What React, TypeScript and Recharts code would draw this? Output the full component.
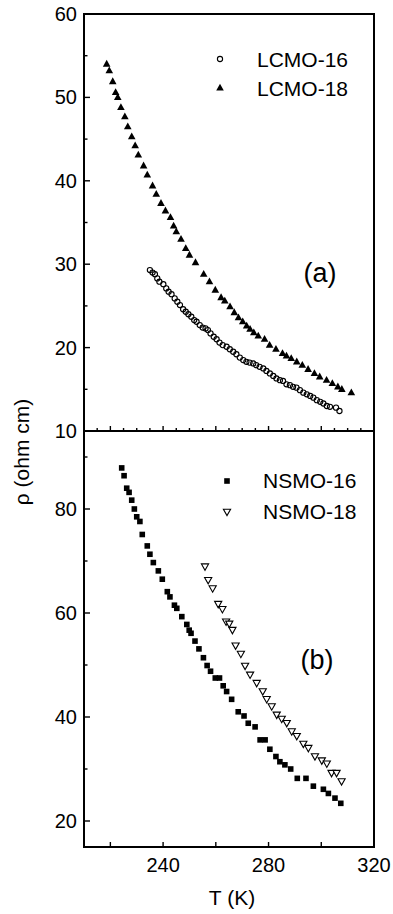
import React from 'react';
import { ScatterChart, Scatter, XAxis, YAxis, ReferenceArea, Legend } from 'recharts';

const FONT = '"Liberation Sans", Arial, Helvetica, sans-serif';

// panel (a): LCMO samples, T in K, rho in ohm cm
const lcmo16T = [
  235.0, 236.0, 236.9, 237.8, 238.6, 240.1, 241.2, 242.1, 243.2, 244.4, 245.4, 246.4, 247.6, 248.6, 249.6,
  250.7, 251.8, 252.7, 253.9, 255.0, 256.1, 257.0, 258.0, 259.2, 260.3, 261.4, 262.6, 264.1, 265.3, 266.6,
  267.8, 269.1, 270.4, 271.6, 272.8, 274.2, 275.3, 276.6, 278.0, 279.2, 280.5, 281.8, 283.0, 284.3, 285.5,
  286.8, 288.1, 289.3, 290.6, 291.9, 293.2, 294.5, 295.8, 297.0, 298.3, 299.6, 300.8, 302.1, 303.3, 305.6,
  306.9,
];
const lcmo16Rho = [
  29.3, 29.0, 28.8, 28.3, 27.9, 27.6, 27.1, 26.7, 26.4, 25.9, 25.5, 25.1, 24.6, 24.3, 24.0,
  23.7, 23.3, 23.1, 22.7, 22.4, 22.3, 22.1, 21.7, 21.3, 21.0, 20.6, 20.3, 20.1, 19.8, 19.5,
  19.2, 18.8, 18.5, 18.3, 18.2, 18.1, 17.9, 17.7, 17.5, 17.2, 16.9, 16.6, 16.3, 16.1, 16.0,
  15.6, 15.5, 15.3, 15.2, 14.9, 14.6, 14.4, 14.2, 14.0, 13.7, 13.5, 13.3, 13.0, 12.9, 12.8,
  12.4,
];
const lcmo18T = [
  218.6, 219.6, 220.9, 222.0, 222.8, 224.0, 225.5, 226.6, 228.1, 229.4, 230.6, 232.6, 234.0, 236.0, 237.4,
  239.2, 240.9, 242.8, 244.0, 245.0, 246.8, 248.6, 250.0, 252.3, 255.4, 257.6, 259.8, 262.0, 263.4, 265.4,
  267.0, 268.6, 270.2, 271.7, 273.0, 274.4, 276.1, 278.5, 280.4, 282.8, 285.3, 286.8, 288.6, 290.7, 292.8,
  295.0, 297.4, 299.4, 302.0, 304.2, 306.3, 307.8, 311.4,
];
const lcmo18Rho = [
  54.0, 53.2, 51.9, 50.6, 50.0, 48.8, 47.7, 46.5, 45.3, 44.2, 43.1, 41.8, 40.7, 39.4, 38.4,
  37.3, 36.4, 35.6, 34.6, 33.9, 33.0, 31.9, 31.1, 30.2, 28.8, 27.9, 26.9, 26.0, 25.6, 24.9,
  24.2, 23.6, 23.1, 22.6, 22.2, 21.8, 21.4, 21.0, 20.3, 19.8, 19.3, 19.0, 18.7, 18.3, 17.9,
  17.4, 16.9, 16.5, 16.1, 15.7, 15.3, 15.0, 14.6,
];

// panel (b): NSMO samples
const nsmo16T = [
  224.3, 225.2, 226.2, 227.1, 228.1, 229.1, 230.0, 231.2, 232.1, 234.0, 235.0, 236.3, 238.2, 239.7, 241.6,
  242.6, 244.3, 245.2, 247.1, 249.0, 249.9, 250.6, 252.1, 253.6, 255.3, 256.7, 258.0, 259.8, 261.4, 262.8,
  264.1, 266.0, 268.5, 270.7, 272.3, 274.9, 276.8, 278.7, 280.5, 282.8, 284.3, 286.2, 288.4, 290.9, 294.2,
  297.0, 300.8, 302.7, 305.2, 307.4,
];
const nsmo16Rho = [
  87.9, 86.4, 84.0, 83.2, 81.7, 80.0, 78.5, 77.6, 75.1, 72.9, 71.3, 69.7, 68.1, 66.5, 64.1,
  63.1, 61.5, 60.9, 59.3, 57.8, 56.7, 56.1, 54.6, 53.1, 51.4, 49.9, 48.8, 47.5, 47.5, 46.0,
  44.9, 43.4, 41.0, 40.2, 38.8, 38.1, 35.6, 35.6, 33.8, 32.4, 31.4, 30.8, 30.0, 28.2, 28.2,
  26.7, 26.1, 25.3, 24.4, 23.4,
];
const nsmo18T = [
  255.9, 257.1, 258.8, 260.9, 262.5, 263.9, 265.1, 266.3, 267.5, 269.5, 271.1, 273.0, 275.5, 277.8, 279.3,
  281.2, 283.1, 285.0, 286.9, 288.8, 290.7, 293.2, 295.1, 297.6, 300.2, 302.1, 303.9, 305.8, 307.7,
];
const nsmo18Rho = [
  68.9, 66.3, 64.7, 61.7, 60.7, 58.3, 57.9, 56.7, 53.7, 52.1, 49.8, 48.1, 46.5, 44.9, 43.4,
  42.0, 40.4, 39.6, 38.8, 37.2, 36.3, 34.8, 34.0, 32.4, 31.6, 31.0, 29.2, 29.2, 27.6,
];

const xTicksTop = [215, 220, 225, 230, 235, 240, 245, 250, 255, 260, 265, 270, 275, 280, 285, 290, 295, 300, 305, 310, 315];
const xTicksBottom = [220, 240, 260, 280, 300, 320];
const xLabels = [240, 280, 320];
const yTicksTop = [10, 15, 20, 25, 30, 35, 40, 45, 50, 55, 60];
const yLabelsTop = [10, 20, 30, 40, 50, 60];
const yTicksBottom = [20, 30, 40, 50, 60, 70, 80, 90];
const yLabelsBottom = [20, 40, 60, 80];

const zip = (t: number[], r: number[]) => t.map((x, i) => ({ x, y: r[i] }));

const upTriangle = (cx: number, cy: number) =>
  `M${cx},${cy - 4.2}L${cx + 3.8},${cy + 2.6}L${cx - 3.8},${cy + 2.6}Z`;
const downTriangle = (cx: number, cy: number) =>
  `M${cx - 3.6},${cy - 2.8}L${cx + 3.6},${cy - 2.8}L${cx},${cy + 3.6}Z`;

const Marker = ({ kind, cx, cy }: { kind: string; cx: number; cy: number }) => {
  if (kind === 'circle') return <circle cx={cx} cy={cy} r={2.6} fill="none" stroke="#000" strokeWidth={1.1} />;
  if (kind === 'square') return <rect x={cx - 2.8} y={cy - 2.8} width={5.6} height={5.6} fill="#000" />;
  if (kind === 'up') return <path d={upTriangle(cx, cy)} fill="#000" />;
  return <path d={downTriangle(cx, cy)} fill="#fff" stroke="#000" strokeWidth={1.1} />;
};

const shapeOf = (kind: string) => (p: any) => <Marker kind={kind} cx={p.cx} cy={p.cy} />;

const leftTick = (labels: number[]) => (p: any) => {
  const v = p.payload.value;
  const major = labels.includes(v);
  return (
    <g>
      <line x1={p.x} y1={p.y} x2={p.x + (major ? 6 : 3.5)} y2={p.y} stroke="#000" strokeWidth={1.4} />
      {major && (
        <text x={p.x - 7} y={p.y + 7} textAnchor="end" fontSize={20} fontFamily={FONT} fill="#000">
          {v}
        </text>
      )}
    </g>
  );
};

const bottomTick = (labels: number[], showText: boolean) => (p: any) => {
  const v = p.payload.value;
  const major = v % 20 === 0;
  return (
    <g>
      <line x1={p.x} y1={p.y} x2={p.x} y2={p.y - (major ? 5 : 3)} stroke="#000" strokeWidth={1.4} />
      {showText && labels.includes(v) && (
        <text x={p.x} y={p.y + 25} textAnchor="middle" fontSize={20} fontFamily={FONT} fill="#000">
          {v}
        </text>
      )}
    </g>
  );
};

type Entry = { name: string; kind: string };

const LegendRows = ({ items, gap, rowH }: { items: Entry[]; gap: number; rowH: number }) => (
  <div style={{ fontFamily: FONT, fontSize: 21, color: '#000' }}>
    {items.map((it) => (
      <div key={it.name} style={{ display: 'flex', alignItems: 'center', height: rowH }}>
        <svg width={16} height={16} style={{ marginRight: gap }}>
          <Marker kind={it.kind} cx={8} cy={8} />
        </svg>
        <span style={{ lineHeight: `${rowH}px` }}>{it.name}</span>
      </div>
    ))}
  </div>
);

const Tag = ({ text, left, top }: { text: string; left: number; top: number }) => (
  <div
    style={{
      position: 'absolute',
      left,
      top,
      transform: 'translate(-50%, -50%)',
      fontFamily: FONT,
      fontSize: 27,
      color: '#000',
      whiteSpace: 'nowrap',
    }}
  >
    {text}
  </div>
);

export default function App() {
  const legendA: Entry[] = [
    { name: 'LCMO-16', kind: 'circle' },
    { name: 'LCMO-18', kind: 'up' },
  ];
  const legendB: Entry[] = [
    { name: 'NSMO-16', kind: 'square' },
    { name: 'NSMO-18', kind: 'down' },
  ];

  return (
    <div style={{ position: 'absolute', left: 0, top: 0, width: 393, height: 914, background: '#fff' }}>
      <div style={{ position: 'absolute', left: 0, top: 431 }}>
        <ScatterChart width={393} height={483} margin={{ top: 0, right: 19, bottom: 0, left: 0 }}>
          <XAxis
            type="number"
            dataKey="x"
            domain={[210, 320]}
            ticks={xTicksBottom}
            interval={0}
            height={67}
            axisLine={false}
            tickLine={false}
            tickSize={0}
            tickMargin={0}
            tick={bottomTick(xLabels, true)}
            label={{ value: 'T (K)', position: 'insideBottom', offset: 9, dx: 3, fontSize: 21, fontFamily: FONT, fill: '#000' }}
            allowDataOverflow
          />
          <YAxis
            type="number"
            dataKey="y"
            domain={[15, 95]}
            ticks={yTicksBottom}
            interval={0}
            width={84}
            axisLine={false}
            tickLine={false}
            tickSize={0}
            tickMargin={0}
            tick={leftTick(yLabelsBottom)}
            allowDataOverflow
          />
          <ReferenceArea x1={210} x2={320} y1={15} y2={95} fill="none" stroke="#000" strokeWidth={2} ifOverflow="visible" />
          <Scatter name="NSMO-16" data={zip(nsmo16T, nsmo16Rho)} shape={shapeOf('square')} isAnimationActive={false} />
          <Scatter name="NSMO-18" data={zip(nsmo18T, nsmo18Rho)} shape={shapeOf('down')} isAnimationActive={false} />
          <Legend
            layout="vertical"
            align="center"
            verticalAlign="middle"
            wrapperStyle={{ left: 219, top: 34, width: 'auto', height: 'auto' }}
            content={() => <LegendRows items={legendB} gap={28} rowH={31} />}
          />
        </ScatterChart>
      </div>

      <div style={{ position: 'absolute', left: 0, top: 0 }}>
        <ScatterChart width={393} height={450} margin={{ top: 14, right: 19, bottom: 0, left: 0 }}>
          <XAxis
            type="number"
            dataKey="x"
            domain={[210, 320]}
            ticks={xTicksTop}
            interval={0}
            height={19}
            axisLine={false}
            tickLine={false}
            tickSize={0}
            tickMargin={0}
            tick={bottomTick(xLabels, false)}
            allowDataOverflow
          />
          <YAxis
            type="number"
            dataKey="y"
            domain={[10, 60]}
            ticks={yTicksTop}
            interval={0}
            width={84}
            axisLine={false}
            tickLine={false}
            tickSize={0}
            tickMargin={0}
            tick={leftTick(yLabelsTop)}
            allowDataOverflow
          />
          <ReferenceArea x1={210} x2={320} y1={10} y2={60} fill="none" stroke="#000" strokeWidth={2} ifOverflow="visible" />
          <Scatter name="LCMO-16" data={zip(lcmo16T, lcmo16Rho)} shape={shapeOf('circle')} isAnimationActive={false} />
          <Scatter name="LCMO-18" data={zip(lcmo18T, lcmo18Rho)} shape={shapeOf('up')} isAnimationActive={false} />
          <Legend
            layout="vertical"
            align="center"
            verticalAlign="middle"
            wrapperStyle={{ left: 212, top: 44.5, width: 'auto', height: 'auto' }}
            content={() => <LegendRows items={legendA} gap={29} rowH={29} />}
          />
        </ScatterChart>
      </div>

      <Tag text="(a)" left={320} top={273} />
      <Tag text="(b)" left={317} top={660} />

      <div
        style={{
          position: 'absolute',
          left: 22,
          top: 452,
          transform: 'translate(-50%, -50%) rotate(-90deg)',
          fontFamily: FONT,
          fontSize: 21,
          color: '#000',
          whiteSpace: 'nowrap',
        }}
      >
        ρ (ohm cm)
      </div>
    </div>
  );
}
